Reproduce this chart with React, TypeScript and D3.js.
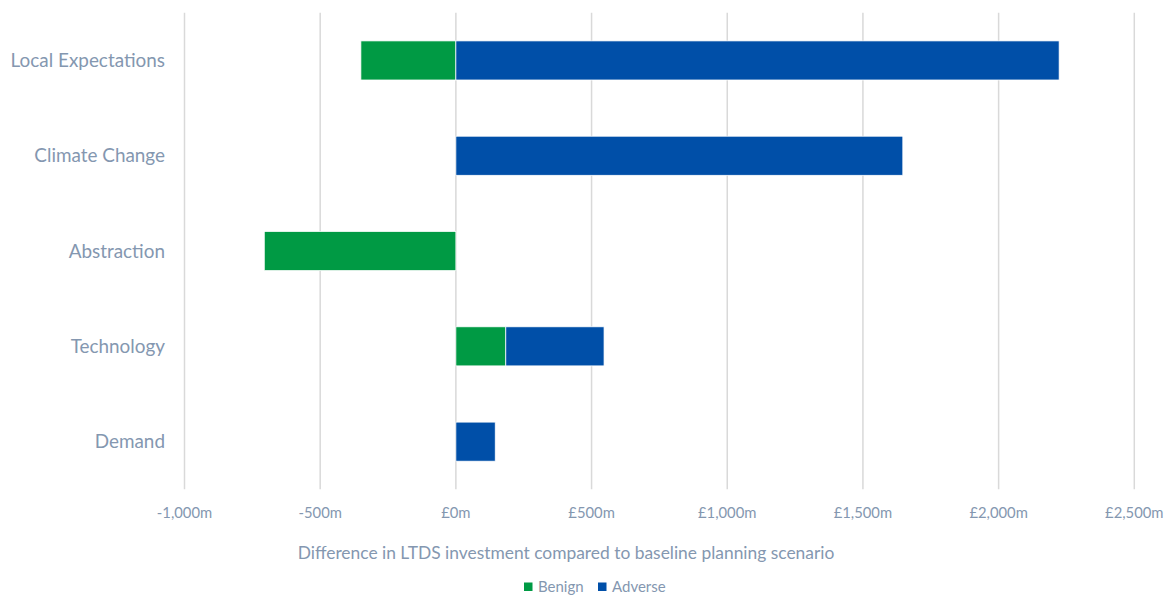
import React from "react";
import * as d3 from "d3";

const categories = ["Local Expectations", "Climate Change", "Abstraction", "Technology", "Demand"];
const benign = [-350, 0, -706, 184, 0];
const adverse = [2223, 1647, 0, 362, 145];
const seriesNames = ["Benign", "Adverse"];
const tickValues = [-1000, -500, 0, 500, 1000, 1500, 2000, 2500];
const tickLabels = ["-1,000m", "-500m", "£0m", "£500m", "£1,000m", "£1,500m", "£2,000m", "£2,500m"];

const W = 1168;
const H = 596;
const colors = ["#009A44", "#004FA8"];
const textColor = "#8497B0";
const font = "Lato, 'Open Sans', sans-serif";

export default function App() {
  const x = d3.scaleLinear().domain([-1000, 2500]).range([184.5, 1134.3]);
  const y = d3.scaleBand().domain(categories).range([12.8, 489.3]).paddingInner(0.59).paddingOuter(0.295);

  const rows = categories.map((c, i) => ({ cat: c, Benign: benign[i], Adverse: adverse[i] }));
  const stacked = d3.stack<any>().keys(seriesNames).offset(d3.stackOffsetDiverging)(rows);

  return (
    <svg width={W} height={H} style={{ position: "absolute", left: 0, top: 0, background: "#fff" }}>
      {tickValues.map((t) => (
        <line key={t} x1={x(t)} x2={x(t)} y1={12.8} y2={489.3} stroke="#D9D9D9" strokeWidth={1.5} />
      ))}
      {stacked.map((s, si) =>
        s.map((d, i) =>
          d[1] - d[0] === 0 ? null : (
            <rect
              key={`${si}-${i}`}
              x={x(Math.min(d[0], d[1]))}
              width={Math.abs(x(d[1]) - x(d[0]))}
              y={y(categories[i])}
              height={y.bandwidth()}
              fill={colors[si]}
              stroke="#fff"
              strokeWidth={0.75}
            />
          )
        )
      )}
      {categories.map((c) => (
        <text key={c} x={165} y={(y(c) ?? 0) + y.bandwidth() / 2} dy="0.35em" textAnchor="end" fill={textColor} fontSize={18.9} fontFamily={font}>
          {c}
        </text>
      ))}
      {tickValues.map((t, i) => (
        <text key={t} x={x(t)} y={517.5} textAnchor="middle" fill={textColor} fontSize={14.8} fontFamily={font}>
          {tickLabels[i]}
        </text>
      ))}
      <text x={566} y={559} textAnchor="middle" fill={textColor} fontSize={17.4} fontFamily={font}>
        Difference in LTDS investment compared to baseline planning scenario
      </text>
      {seriesNames.map((n, i) => {
        const lx = i === 0 ? 524 : 598;
        return (
          <g key={n}>
            <rect x={lx} y={582.5} width={8.5} height={8.5} fill={colors[i]} />
            <text x={lx + 14} y={592} fill={textColor} fontSize={15} fontFamily={font}>
              {n}
            </text>
          </g>
        );
      })}
    </svg>
  );
}
